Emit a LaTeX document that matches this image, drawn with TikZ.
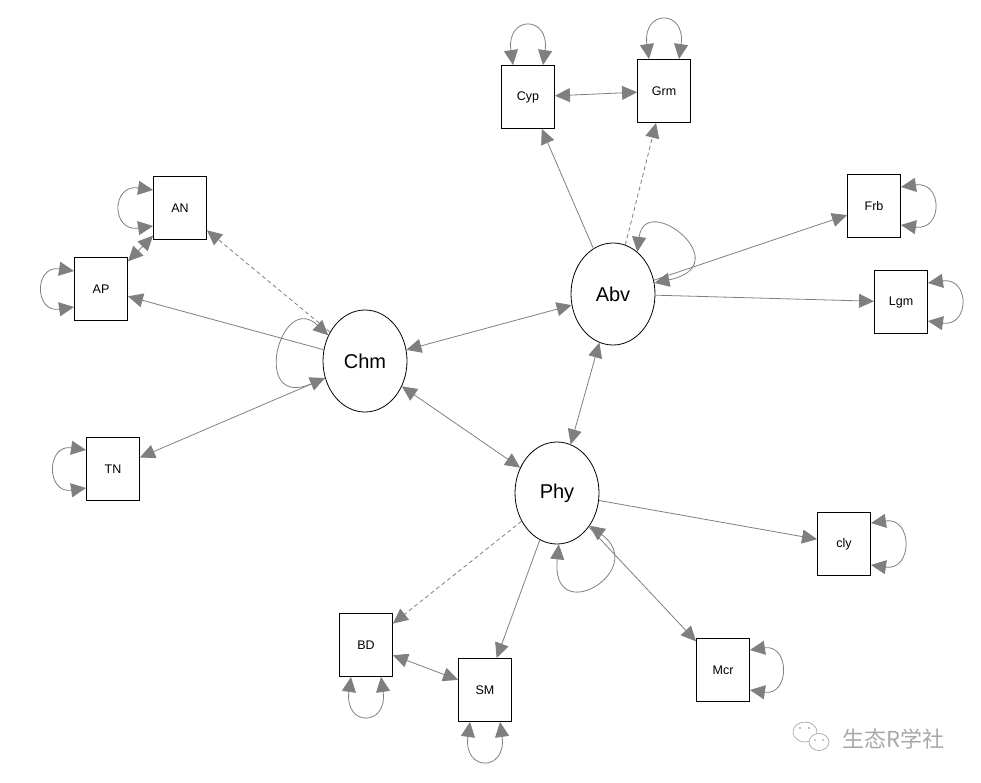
\documentclass[tikz,border=0pt]{standalone}
\usepackage{fontspec}
\setmainfont{Liberation Sans}
\newfontfamily\cjk{Noto Sans CJK SC}
\usetikzlibrary{shapes.geometric,arrows.meta,calc}
\definecolor{lgray}{HTML}{7F7F7F}
\definecolor{wmgray}{HTML}{A8A8A8}
\tikzset{
  sq/.style={draw, rectangle, minimum width=53pt, minimum height=63pt, inner sep=0pt, line width=0.9pt, font=\fontsize{12.5}{14}\selectfont},
  ov/.style={draw, ellipse, minimum width=84pt, minimum height=102pt, inner sep=0pt, line width=0.8pt, font=\fontsize{20}{24}\selectfont},
  conn/.style={draw=lgray, line width=0.8pt},
  one/.style={conn, -{Triangle[length=15pt,width=14pt]}},
  two/.style={conn, {Triangle[length=15pt,width=14pt]}-{Triangle[length=15pt,width=14pt]}},
  dsh/.style={dash pattern=on 4pt off 3pt},
}
\begin{document}
\begin{tikzpicture}[x=1pt,y=-1pt]
\useasboundingbox (0,0) rectangle (981,782);
% nodes
\node[ov] (Abv) at (613,294) {Abv};
\node[ov] (Chm) at (365,361) {Chm};
\node[ov] (Phy) at (557,493) {Phy};
\node[sq] (Cyp) at (528,97) {Cyp};
\node[sq] (Grm) at (664,91) {Grm};
\node[sq] (AN) at (180,208) {AN};
\node[sq] (AP) at (101,289) {AP};
\node[sq] (TN) at (113,469) {TN};
\node[sq] (Frb) at (874,206) {Frb};
\node[sq] (Lgm) at (901,302) {Lgm};
\node[sq] (cly) at (844,544) {cly};
\node[sq] (Mcr) at (723,670) {Mcr};
\node[sq] (BD) at (366,645) {BD};
\node[sq] (SM) at (485,690) {SM};
% edges
\draw[two] (Cyp) -- (Grm);
\draw[two] (Chm) -- (Abv);
\draw[two] (Chm) -- (Phy);
\draw[two] (Phy) -- (Abv);
\draw[two] (AN) -- (AP);
\draw[two] (BD) -- (SM);
\draw[one] (Abv) -- (Cyp);
\draw[one] (Abv) -- (Frb);
\draw[one] (Abv) -- (Lgm);
\draw[one] (Chm) -- (AP);
\draw[one] (Chm) -- (TN);
\draw[one] (Phy) -- (cly);
\draw[one] (Phy) -- (SM);
\draw[one] (Phy) -- (Mcr);
\draw[one,dsh] (Abv) -- (Grm);
\draw[one,dsh] (Chm) -- (AN);
\draw[one,dsh] (Phy) -- (BD);
% self loops on ellipses
\draw[two] (Abv.60) .. controls (645,190) and (740,265) .. (Abv.15);
\draw[two] (Chm.145) .. controls (280,290) and (250,410) .. (Chm.203);
\draw[two] (Phy.-88) .. controls (550,630) and (650,570) .. (Phy.-45);
% self loops on boxes: top
\draw[two] ($(Cyp.north)+(-15,0)$) .. controls +(-7,-50) and +(7,-50) .. ($(Cyp.north)+(15,0)$);
\draw[two] ($(Grm.north)+(-15,0)$) .. controls +(-7,-50) and +(7,-50) .. ($(Grm.north)+(15,0)$);
% bottom
\draw[two] ($(BD.south)+(-15,0)$) .. controls +(-7,50) and +(7,50) .. ($(BD.south)+(15,0)$);
\draw[two] ($(SM.south)+(-15,0)$) .. controls +(-7,50) and +(7,50) .. ($(SM.south)+(15,0)$);
% left
\draw[two] ($(AN.west)+(0,-18)$) .. controls +(-42,-6) and +(-42,6) .. ($(AN.west)+(0,18)$);
\draw[two] ($(AP.west)+(0,-18)$) .. controls +(-40,-6) and +(-40,6) .. ($(AP.west)+(0,18)$);
\draw[two] ($(TN.west)+(0,-19)$) .. controls +(-40,-6) and +(-40,6) .. ($(TN.west)+(0,19)$);
% right
\draw[two] ($(Frb.east)+(0,-19)$) .. controls +(42,-6) and +(42,6) .. ($(Frb.east)+(0,19)$);
\draw[two] ($(Lgm.east)+(0,-19)$) .. controls +(42,-6) and +(42,6) .. ($(Lgm.east)+(0,19)$);
\draw[two] ($(cly.east)+(0,-21)$) .. controls +(42,-6) and +(42,6) .. ($(cly.east)+(0,21)$);
\draw[two] ($(Mcr.east)+(0,-20)$) .. controls +(40,-6) and +(40,6) .. ($(Mcr.east)+(0,20)$);
% watermark
\node[font=\cjk\fontsize{22}{24}\selectfont, text=wmgray, inner sep=0pt] (wm) at (893,739) {生态R学社};
\begin{scope}[draw=wmgray, line width=0.7pt]
\draw (805,732) ellipse [x radius=12, y radius=10];
\draw[fill=white] (819,742) ellipse [x radius=10, y radius=8.5];
\fill[wmgray] (800,728) circle (1.2) (809,728) circle (1.2);
\fill[wmgray] (815,740) circle (1) (823,740) circle (1);
\end{scope}
\end{tikzpicture}
\end{document}
